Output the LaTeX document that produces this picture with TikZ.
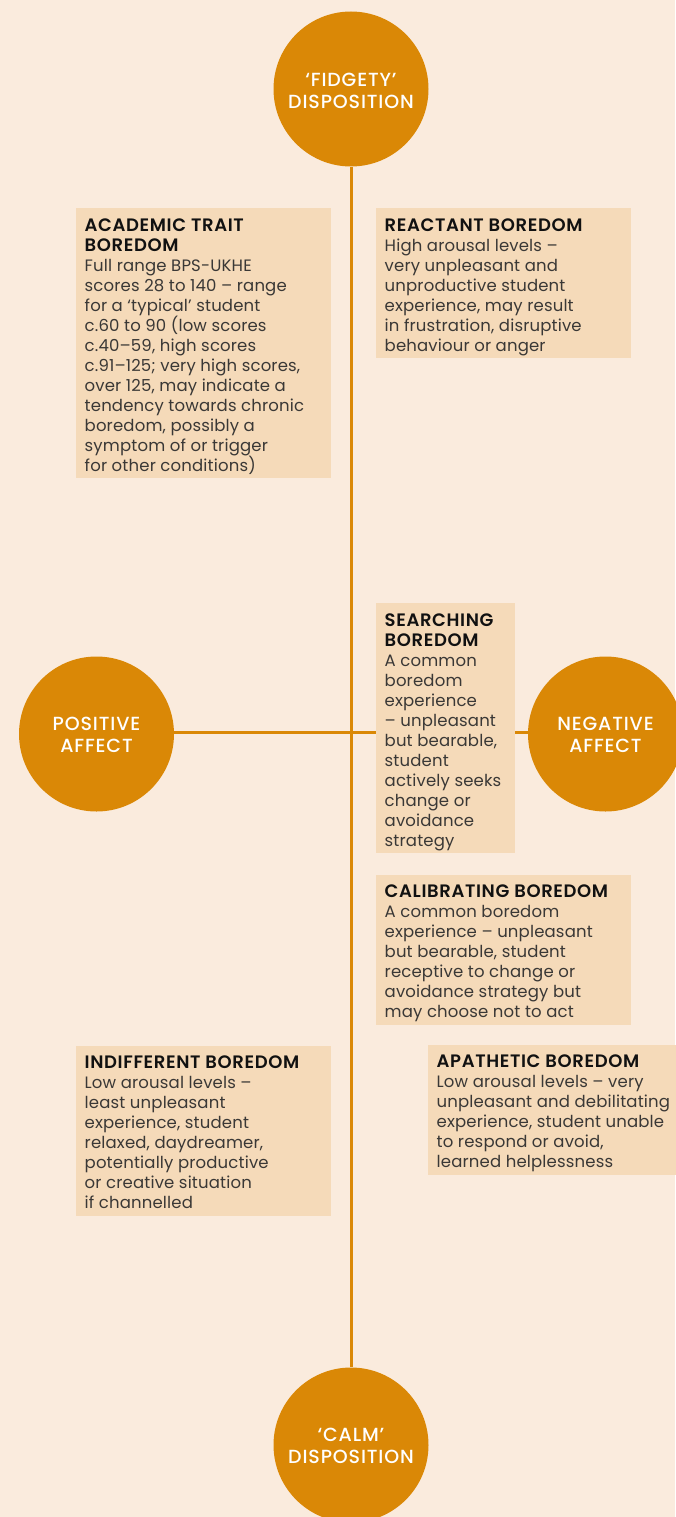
\documentclass[tikz,border=0pt]{standalone}
\usepackage{fontspec}
\setmainfont{Poppins}[LetterSpace=1]
\newfontfamily\hdfont{Poppins}[UprightFont=* SemiBold, LetterSpace=3.5]
\newfontfamily\cfont{Poppins}[UprightFont=* Medium, LetterSpace=4.5]
\definecolor{bg}{HTML}{FAEBDD}
\definecolor{boxc}{HTML}{F5DAB9}
\definecolor{orng}{HTML}{DA8806}
\definecolor{bodyc}{HTML}{3A3836}
\definecolor{headc}{HTML}{111111}
\newcommand{\bx}[2]{\parbox[t]{#1pt}{\leavevmode\raggedright\fontsize{16.5}{20}\selectfont #2}}
\newcommand{\hd}[1]{{\hdfont\fontsize{18}{20}\selectfont\color{headc}#1}}
\begin{document}
\begin{tikzpicture}[x=1pt,y=-1pt,
  circ/.style={circle, fill=orng, minimum size=155pt, inner sep=0pt},
  ctext/.style={text=white, align=center, font=\cfont\fontsize{19}{21.5}\selectfont, inner sep=0pt},
  boxn/.style={fill=boxc, anchor=north west, inner sep=0pt},
  btext/.style={anchor=base west, inner sep=0pt, text=bodyc},
  link/.style={draw=orng, line width=3pt}]
\fill[bg] (0,0) rectangle (675,1517);
\useasboundingbox (0,0) rectangle (675,1517);
% circles
\node[circ] (top) at (351,89) {};
\node[circ] (bot) at (351,1445) {};
\node[circ] (pos) at (96.5,734) {};
\node[circ] (neg) at (605.5,734) {};
% connectors
\draw[link] (top.south) -- (bot.north);
\draw[link] (pos.east |- 0,732) -- (neg.west |- 0,732);
% boxes
\node[boxn, minimum width=255pt, minimum height=270pt] (acad) at (76,208) {};
\node[boxn, minimum width=255pt, minimum height=150pt] (reac) at (376,208) {};
\node[boxn, minimum width=139pt, minimum height=250pt] (sear) at (376,603) {};
\node[boxn, minimum width=255pt, minimum height=150pt] (cali) at (376,875) {};
\node[boxn, minimum width=255pt, minimum height=170pt] (indi) at (76,1046) {};
\node[boxn, minimum width=260pt, minimum height=130pt] (apat) at (428,1045) {};
% circle texts
\node[ctext] (toptx) at (351,91) {‘FIDGETY’\\DISPOSITION};
\node[ctext] (bottx) at (351,1446) {‘CALM’\\DISPOSITION};
\node[ctext] (postx) at (96.5,735) {POSITIVE\\AFFECT};
\node[ctext] (negtx) at (605.5,735) {NEGATIVE\\AFFECT};
% box texts
\node[btext] (acadt) at (84.5,231) {\bx{245}{\hd{ACADEMIC TRAIT}\\\hd{BOREDOM}\\Full range BPS-UKHE\\scores 28 to 140 – range\\for a ‘typical’ student\\c.60 to 90 (low scores\\c.40–59, high scores\\c.91–125; very high scores,\\over 125, may indicate a\\tendency towards chronic\\boredom, possibly a\\symptom of or trigger\\for other conditions)}};
\node[btext] (react) at (384.5,231) {\bx{245}{\hd{REACTANT BOREDOM}\\High arousal levels –\\very unpleasant and\\unproductive student\\experience, may result\\in frustration, disruptive\\behaviour or anger}};
\node[btext] (seart) at (384.5,626) {\bx{135}{\hd{SEARCHING}\\\hd{BOREDOM}\\A common\\boredom\\experience\\– unpleasant\\but bearable,\\student\\actively seeks\\change or\\avoidance\\strategy}};
\node[btext] (calit) at (384.5,897) {\bx{245}{\hd{CALIBRATING BOREDOM}\\A common boredom\\experience – unpleasant\\but bearable, student\\receptive to change or\\avoidance strategy but\\may choose not to act}};
\node[btext] (indit) at (84.5,1068) {\bx{245}{\hd{INDIFFERENT BOREDOM}\\Low arousal levels –\\least unpleasant\\experience, student\\relaxed, daydreamer,\\potentially productive\\or creative situation\\if channelled}};
\node[btext] (apatt) at (436.5,1067) {\bx{245}{\hd{APATHETIC BOREDOM}\\Low arousal levels – very\\unpleasant and debilitating\\experience, student unable\\to respond or avoid,\\learned helplessness}};
\end{tikzpicture}
\end{document}
